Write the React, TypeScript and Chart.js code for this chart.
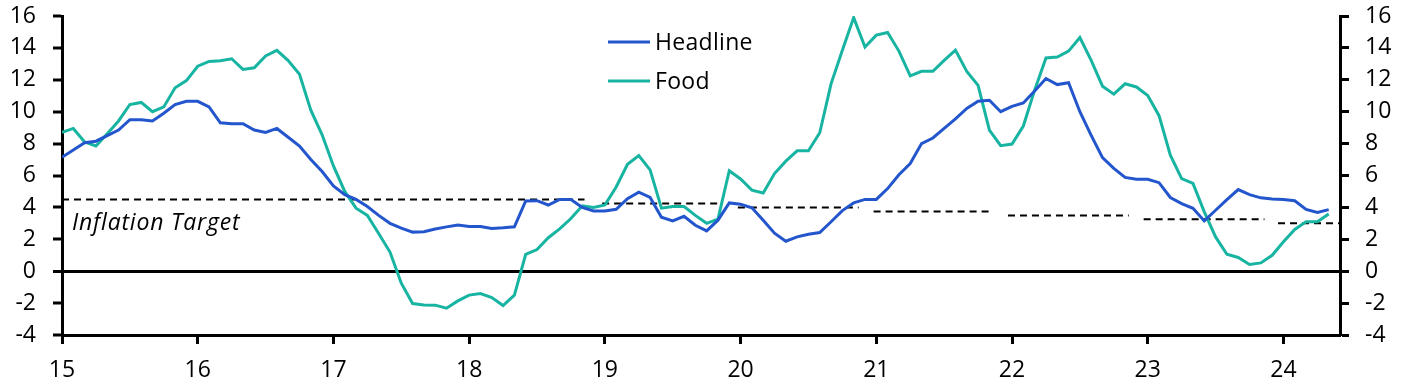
import React, { useEffect, useRef } from 'react';
import { Chart, registerables } from 'chart.js';

Chart.register(...registerables);

// Monthly series starting January 2015 (x = 15 + monthIndex / 12)
const startYear = 15;

const headline = [
  7.15, 7.6, 8.05, 8.15, 8.5, 8.85, 9.5, 9.5, 9.42, 9.9, 10.45, 10.65,
  10.65, 10.3, 9.3, 9.25, 9.25, 8.85, 8.7, 8.95, 8.4, 7.85, 7.0, 6.25,
  5.35, 4.8, 4.5, 4.05, 3.5, 3.0, 2.7, 2.45, 2.48, 2.65, 2.78, 2.9,
  2.8, 2.8, 2.68, 2.72, 2.78, 4.4, 4.42, 4.15, 4.5, 4.5, 4.0, 3.78,
  3.78, 3.88, 4.55, 4.95, 4.62, 3.38, 3.15, 3.44, 2.88, 2.53, 3.2, 4.28,
  4.2, 3.98, 3.2, 2.38, 1.88, 2.15, 2.32, 2.42, 3.1, 3.8, 4.28, 4.5,
  4.5, 5.18, 6.05, 6.75, 8.0, 8.35, 8.95, 9.55, 10.2, 10.65, 10.72, 10.0,
  10.33, 10.55, 11.3, 12.08, 11.7, 11.82, 10.0, 8.52, 7.12, 6.45, 5.88, 5.77,
  5.76, 5.55, 4.62, 4.24, 3.94, 3.15, 3.82, 4.49, 5.12, 4.8, 4.6, 4.53,
  4.49, 4.42, 3.87, 3.68, 3.86,
];

const food = [
  8.7, 8.95, 8.1, 7.85, 8.62, 9.42, 10.45, 10.58, 10.0, 10.3, 11.5, 11.95,
  12.85, 13.15, 13.2, 13.32, 12.65, 12.75, 13.5, 13.85, 13.2, 12.35, 10.1, 8.55,
  6.6, 5.0, 3.95, 3.5, 2.36, 1.2, -0.75, -2.03, -2.12, -2.13, -2.32, -1.86,
  -1.5, -1.4, -1.65, -2.15, -1.5, 1.05, 1.36, 2.1, 2.65, 3.3, 4.1, 4.0,
  4.15, 5.28, 6.7, 7.25, 6.35, 3.95, 4.05, 4.05, 3.5, 3.0, 3.27, 6.3,
  5.78, 5.08, 4.9, 6.12, 6.9, 7.55, 7.55, 8.68, 11.75, 13.85, 15.9, 14.05,
  14.8, 14.97, 13.8, 12.25, 12.53, 12.53, 13.22, 13.86, 12.53, 11.65, 8.85, 7.87,
  7.97, 9.1, 11.35, 13.37, 13.43, 13.8, 14.65, 13.22, 11.6, 11.1, 11.75, 11.55,
  11.02, 9.75, 7.27, 5.8, 5.5, 3.72, 2.15, 1.06, 0.86, 0.42, 0.52, 1.0,
  1.84, 2.62, 3.1, 3.1, 3.58,
];

// Inflation target segments
const targetStart = [15, 18.98, 19.98, 20.98, 21.97, 22.97, 23.96];
const targetEnd = [18.85, 19.87, 20.87, 21.86, 22.86, 23.86, 24.4167];
const targetValue = [4.5, 4.25, 4.0, 3.75, 3.5, 3.25, 3.0];

const xTickValues = [15, 16, 17, 18, 19, 20, 21, 22, 23, 24];
const xMin = 15;
const xMax = 24 + 5 / 12;
const yMin = -4;
const yMax = 16;
const yStep = 2;

const HEADLINE_COLOR = '#2356CC';
const FOOD_COLOR = '#18B4A2';
const FONT_FAMILY = '"Open Sans", "Noto Sans", sans-serif';
const FONT_SIZE = 23;

const toPoints = (arr: number[]) => arr.map((v, i) => ({ x: startYear + i / 12, y: v }));

const targetPoints = () => {
  const pts: { x: number; y: number | null }[] = [];
  targetValue.forEach((v, k) => {
    pts.push({ x: targetStart[k], y: v });
    pts.push({ x: targetEnd[k], y: v });
    pts.push({ x: (targetEnd[k] + (targetStart[k + 1] ?? targetEnd[k] + 0.05)) / 2, y: null });
  });
  return pts;
};

const annotationPlugin = {
  id: 'customLegendAndLabel',
  afterDraw(chart: any) {
    const ctx = chart.ctx;
    const area = chart.chartArea;
    ctx.save();
    // Legend
    const items = [
      { label: 'Headline', color: HEADLINE_COLOR, y: 42 },
      { label: 'Food', color: FOOD_COLOR, y: 81 },
    ];
    ctx.font = `${FONT_SIZE}px ${FONT_FAMILY}`;
    ctx.textBaseline = 'middle';
    ctx.textAlign = 'left';
    try { (ctx as any).letterSpacing = '0.3px'; } catch (e) { /* ignore */ }
    items.forEach((it) => {
      ctx.strokeStyle = it.color;
      ctx.lineWidth = 3;
      ctx.beginPath();
      ctx.moveTo(608, it.y);
      ctx.lineTo(650, it.y);
      ctx.stroke();
      ctx.fillStyle = '#000';
      ctx.fillText(it.label, 655, it.y + 1);
    });
    // Inflation target label
    ctx.font = `italic ${FONT_SIZE}px ${FONT_FAMILY}`;
    try { (ctx as any).letterSpacing = '0.8px'; } catch (e) { /* ignore */ }
    ctx.textBaseline = 'alphabetic';
    ctx.fillStyle = '#000';
    ctx.fillText('Inflation Target', area.left + 10, 230);
    ctx.restore();
  },
};

const zeroPadV = (scale: any) => {
  scale.paddingTop = 0;
  scale.paddingBottom = 0;
};

export default function App() {
  const canvasRef = useRef<HTMLCanvasElement | null>(null);

  useEffect(() => {
    document.body.style.margin = '0';
    const canvas = canvasRef.current;
    if (!canvas) return;
    const tickFont = { family: FONT_FAMILY, size: FONT_SIZE };
    const chart = new Chart(canvas, {
      type: 'line',
      data: {
        datasets: [
          {
            label: 'Headline',
            data: toPoints(headline),
            borderColor: HEADLINE_COLOR,
            borderWidth: 3,
            pointRadius: 0,
            tension: 0,
            order: 1,
          },
          {
            label: 'Food',
            data: toPoints(food),
            borderColor: FOOD_COLOR,
            borderWidth: 3,
            pointRadius: 0,
            tension: 0,
            order: 2,
          },
          {
            label: 'Inflation Target',
            data: targetPoints() as any,
            borderColor: '#000',
            borderWidth: 2,
            borderDash: [7, 5],
            pointRadius: 0,
            spanGaps: false,
            order: 3,
          },
        ],
      },
      options: {
        responsive: false,
        animation: false,
        layout: { padding: { top: 16, left: 0, right: 0, bottom: 0 }, autoPadding: false },
        plugins: { legend: { display: false }, tooltip: { enabled: false } },
        scales: {
          x: {
            type: 'linear',
            min: xMin,
            max: xMax,
            afterBuildTicks: (scale: any) => {
              scale.ticks = xTickValues.map((v) => ({ value: v }));
            },
            afterFit: (scale: any) => {
              scale.height = 50;
              scale.paddingLeft = 0;
              scale.paddingRight = 0;
            },
            border: { color: '#000', width: 3 },
            grid: {
              drawOnChartArea: false,
              drawTicks: true,
              tickLength: 9,
              tickColor: '#000',
              tickWidth: 3,
            },
            ticks: {
              color: '#000',
              font: tickFont,
              padding: 13,
              maxRotation: 0,
              autoSkip: false,
              callback: (v: any) => String(v),
            },
          },
          y: {
            position: 'left',
            min: yMin,
            max: yMax,
            afterFit: (scale: any) => {
              scale.width = 62;
              zeroPadV(scale);
            },
            border: { color: '#000', width: 3 },
            grid: {
              drawOnChartArea: true,
              drawTicks: true,
              tickLength: 9,
              tickColor: '#000',
              tickWidth: 3,
              color: (c: any) => (c.tick && c.tick.value === 0 ? '#000' : 'rgba(0,0,0,0)'),
              lineWidth: (c: any) => (c.tick && c.tick.value === 0 ? 3 : 0),
            },
            ticks: {
              stepSize: yStep,
              autoSkip: false,
              color: '#000',
              font: tickFont,
              padding: 17,
            },
          },
          y2: {
            position: 'right',
            min: yMin,
            max: yMax,
            afterFit: (scale: any) => {
              scale.width = 70;
              zeroPadV(scale);
            },
            border: { color: '#000', width: 3 },
            grid: {
              drawOnChartArea: false,
              drawTicks: true,
              tickLength: 9,
              tickColor: '#000',
              tickWidth: 3,
            },
            ticks: {
              stepSize: yStep,
              autoSkip: false,
              color: '#000',
              font: tickFont,
              padding: 16,
            },
          },
        },
      },
      plugins: [annotationPlugin],
    } as any);
    return () => chart.destroy();
  }, []);

  return (
    <div style={{ position: 'absolute', left: 0, top: 0, width: 1410, height: 385 }}>
      <canvas ref={canvasRef} width={1410} height={385} />
    </div>
  );
}
